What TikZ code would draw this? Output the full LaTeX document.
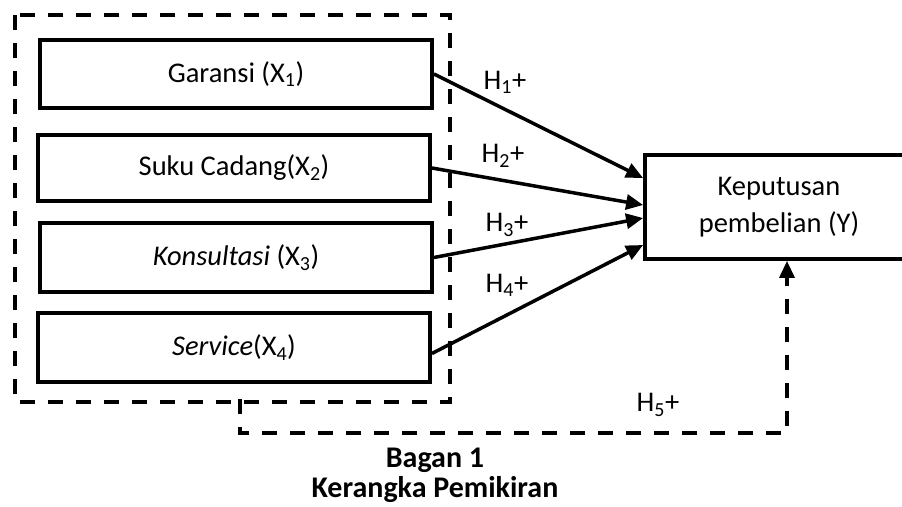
\documentclass[tikz,border=0pt]{standalone}
\usepackage{fontspec}
\setmainfont{Carlito}
\usetikzlibrary{arrows.meta,calc}
\begin{document}
\begin{tikzpicture}[x=1pt,y=-1pt,
  varbox/.style={draw,line width=3.8pt,minimum width=392pt,inner sep=0pt,
    font=\fontsize{28.5}{34}\selectfont},
  outbox/.style={draw,line width=3.8pt,minimum width=268pt,minimum height=104pt,inner sep=0pt,
    align=center,font=\fontsize{28.5}{37}\selectfont},
  link/.style={line width=3.5pt,-{Triangle[length=17pt,width=15pt]}},
  dashline/.style={line width=3.5pt,dash pattern=on 15pt off 13pt},
  hyp/.style={font=\fontsize{28.5}{34}\selectfont,inner sep=0pt},
  caption/.style={font=\fontsize{30}{34}\selectfont\bfseries,inner sep=0pt,anchor=base}]
\useasboundingbox (0,0) rectangle (902,506);

% group of independent variables
\draw[dashline] (15,15) rectangle (450,402);

\node[varbox,minimum height=68pt] (x1) at (236,74) {Garansi (X\textsubscript{1})};
\node[varbox,minimum height=66pt] (x2) at (234,168) {Suku Cadang(X\textsubscript{2})};
\node[varbox,minimum height=69pt] (x3) at (236,257.5) {\textit{Konsultasi} (X\textsubscript{3})};
\node[varbox,minimum height=69pt] (x4) at (234,347.5) {\textit{Service}(X\textsubscript{4})};

% dependent variable
\node[outbox] (y) at (779,207) {Keputusan\\pembelian (Y)};

% partial effects
\draw[link] (x1.east) -- ([yshift=29pt]y.west);
\draw[link] (x2.east) -- ([yshift=2pt]y.west);
\draw[link] (x3.east) -- ([yshift=-11pt]y.west);
\draw[link] ([yshift=-6pt]x4.east) -- ([yshift=-38pt]y.west);

\node[hyp] (h1) at (505,82) {H\textsubscript{1}+};
\node[hyp] (h2) at (503,156) {H\textsubscript{2}+};
\node[hyp] (h3) at (507,225) {H\textsubscript{3}+};
\node[hyp] (h4) at (507,285) {H\textsubscript{4}+};

% simultaneous effect
\coordinate (fb) at (240,399);
\coordinate (fbturn) at (787,433);
\draw[dashline,-{Triangle[length=17pt,width=15pt]}] (fb) |- (fbturn) -- (y.south -| fbturn);
\node[hyp] (h5) at (658,405) {H\textsubscript{5}+};

% caption
\node[caption] (c1) at (435,467) {Bagan 1};
\node[caption] (c2) at (435,497) {Kerangka Pemikiran};
\end{tikzpicture}
\end{document}
